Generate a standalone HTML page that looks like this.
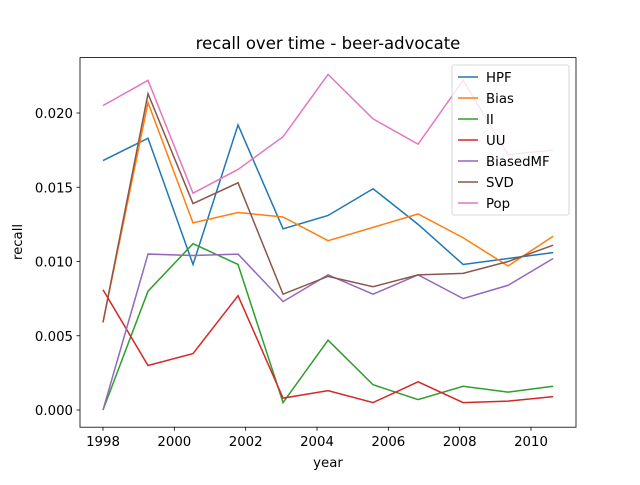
<!DOCTYPE html>
<html><head><meta charset="utf-8"><style>
body{margin:0;background:#fff;}
svg text{font-family:"DejaVu Sans","Liberation Sans",sans-serif;}
</style></head><body>
<svg id="chart" width="640" height="480" xmlns="http://www.w3.org/2000/svg"></svg>
<script>
const years = [0,1,2,3,4,5,6,7,8,9,10];
const seriesNames = ["HPF","Bias","II","UU","BiasedMF","SVD","Pop"];
const colors = ["#1f77b4","#ff7f0e","#2ca02c","#d62728","#9467bd","#8c564b","#e377c2"];
const hpf = [0.0168,0.0183,0.0098,0.0192,0.0122,0.0131,0.0149,0.0125,0.0098,0.0102,0.0106];
const bias = [0.0059,0.0207,0.0126,0.0133,0.0130,0.0114,0.0123,0.0132,0.0116,0.0097,0.0117];
const ii = [0.0000,0.0080,0.0112,0.0098,0.0005,0.0047,0.0017,0.0007,0.0016,0.0012,0.0016];
const uu = [0.0081,0.0030,0.0038,0.0077,0.0008,0.0013,0.0005,0.0019,0.0005,0.0006,0.0009];
const biasedmf = [0.0000,0.0105,0.0104,0.0105,0.0073,0.0091,0.0078,0.0091,0.0075,0.0084,0.0102];
const svd = [0.0059,0.0213,0.0139,0.0153,0.0078,0.0090,0.0083,0.0091,0.0092,0.0100,0.0111];
const pop = [0.0205,0.0222,0.0146,0.0162,0.0184,0.0226,0.0196,0.0179,0.0222,0.0172,0.0175];
const xTicks = [1998,2000,2002,2004,2006,2008,2010];
const yTicks = [0.000,0.005,0.010,0.015,0.020];
const allSeries = [hpf,bias,ii,uu,biasedmf,svd,pop];

const NS="http://www.w3.org/2000/svg";
const svg=document.getElementById('chart');
const L=80,R=576,T=57.6,B=427.2;
const yearStart=1998, yearStep=1.262;
const xs=y=>103+(y-1998)*(428/12);
const xi=i=>xs(yearStart+i*yearStep);
const ys=v=>410-v*(297/0.020);
function mk(tag,attrs,txt){const e=document.createElementNS(NS,tag);for(const k in attrs)e.setAttribute(k,attrs[k]);if(txt!==undefined)e.textContent=txt;svg.appendChild(e);return e;}

let t=mk('text',{x:328,y:49,'text-anchor':'middle','font-size':16.5},'recall over time - beer-advocate');



allSeries.forEach((s,k)=>{
  const p=mk('polyline',{points:s.map((v,i)=>xi(years[i])+','+ys(v)).join(' '),fill:'none',stroke:colors[k],'stroke-width':1.5});
  
  
});

let fr=mk('rect',{x:L,y:T,width:R-L,height:B-T,fill:'none',stroke:'#000','stroke-width':0.8});



xTicks.forEach(v=>{
  const x=xs(v);
  mk('line',{x1:x,x2:x,y1:B,y2:B+3.5,stroke:'#000','stroke-width':0.8});
  const tt=mk('text',{x:x,y:B+19,'text-anchor':'middle','font-size':13.3},String(v));
  
  
});
yTicks.forEach(v=>{
  const y=ys(v);
  mk('line',{x1:L-3.5,x2:L,y1:y,y2:y,stroke:'#000','stroke-width':0.8});
  const tt=mk('text',{x:L-7,y:y+5,'text-anchor':'end','font-size':13.3},v.toFixed(3));
  
  
});
t=mk('text',{x:328,y:467,'text-anchor':'middle','font-size':13.3},'year');


t=mk('text',{x:22,y:242,'text-anchor':'middle','font-size':13.3,transform:'rotate(-90 22 242)'},'recall');



const lg=mk('rect',{x:452,y:65,width:117,height:150,rx:2,fill:'#fff','fill-opacity':0.8,stroke:'#ccc','stroke-width':0.8});


seriesNames.forEach((n,k)=>{
  const y=77+k*21;
  mk('line',{x1:458,x2:478,y1:y,y2:y,stroke:colors[k],'stroke-width':1.5});
  const tt=mk('text',{x:486,y:y+5,'font-size':13.3},n);
  
  
});
</script>
</body></html>
